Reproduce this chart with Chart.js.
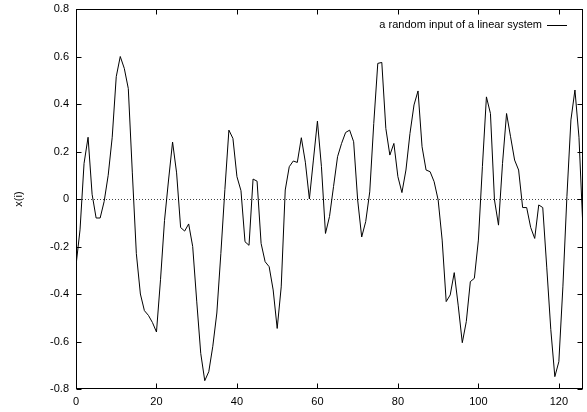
<!DOCTYPE html>
<html lang="en">
<head>
  <meta charset="UTF-8">
  <title>a random input of a linear system</title>
  <script src="https://cdn.jsdelivr.net/npm/chart.js"></script>
  <style>
    body { margin: 0; background: #ffffff; }
    #wrap { width: 587px; height: 412px; position: relative; }
  </style>
</head>
<body>

<div id="wrap">
  <canvas id="myChart"></canvas>
</div>

<script>
// x(i) for i = 0 .. 126
const seriesLabel = 'a random input of a linear system';
const values = [
  -0.28, -0.13, 0.15, 0.26, 0.02, -0.08, -0.08, -0.01, 0.10, 0.26,
  0.515, 0.60, 0.55, 0.465, 0.11, -0.23, -0.40, -0.47, -0.49, -0.52,
  -0.56, -0.34, -0.09, 0.08, 0.24, 0.11, -0.12, -0.135, -0.105, -0.20,
  -0.43, -0.65, -0.765, -0.727, -0.62, -0.48, -0.23, 0.04, 0.29, 0.255,
  0.094, 0.035, -0.18, -0.195, 0.084, 0.075, -0.187, -0.264, -0.285, -0.383,
  -0.545, -0.37, 0.038, 0.136, 0.16, 0.154, 0.258, 0.155, 0.0, 0.164,
  0.328, 0.136, -0.145, -0.074, 0.052, 0.178, 0.234, 0.28, 0.29, 0.241,
  -0.004, -0.16, -0.095, 0.03, 0.318, 0.571, 0.575, 0.297, 0.185, 0.234,
  0.094, 0.027, 0.122, 0.276, 0.396, 0.455, 0.22, 0.122, 0.115, 0.073,
  -0.004, -0.173, -0.432, -0.404, -0.31, -0.45, -0.605, -0.516, -0.348, -0.334,
  -0.173, 0.136, 0.43, 0.36, -0.004, -0.11, 0.15, 0.36, 0.262, 0.164,
  0.122, -0.036, -0.036, -0.12, -0.166, -0.025, -0.036, -0.29, -0.55, -0.748,
  -0.685, -0.37, 0.01, 0.333, 0.459, 0.26, -0.13
];
const xTicks = [0, 20, 40, 60, 80, 100, 120];
const yTicks = [-0.8, -0.6, -0.4, -0.2, 0, 0.2, 0.4, 0.6, 0.8];
const yTickLabels = ['-0.8', '-0.6', '-0.4', '-0.2', '0', '0.2', '0.4', '0.6', '0.8'];
const yTitle = 'x(i)';

const font = { family: '"Liberation Sans", Arial, sans-serif', size: 11 };

// gnuplot look: box border, inward ticks on all four sides
const framePlugin = {
  id: 'frame',
  beforeDatasetsDraw(chart) {
    const { ctx, chartArea: a, scales } = chart;
    const y0 = Math.round(scales.y.getPixelForValue(0)) + 0.5;
    ctx.save();
    ctx.strokeStyle = '#444';
    ctx.lineWidth = 1;
    ctx.setLineDash([1, 2]);
    ctx.beginPath();
    ctx.moveTo(a.left, y0);
    ctx.lineTo(a.right, y0);
    ctx.stroke();
    ctx.restore();
  },
  afterDatasetsDraw(chart) {
    const { ctx, chartArea: a, scales } = chart;
    const L = Math.round(a.left) + 0.5, R = Math.round(a.right) - 0.5;
    const T = Math.round(a.top) + 0.5, B = Math.round(a.bottom) - 0.5;
    const tl = 5;
    ctx.save();
    ctx.strokeStyle = '#000';
    ctx.lineWidth = 1;
    ctx.strokeRect(L, T, R - L, B - T);
    ctx.beginPath();
    xTicks.forEach(v => {
      const px = Math.round(scales.x.getPixelForValue(v)) + 0.5;
      ctx.moveTo(px, B); ctx.lineTo(px, B - tl);
      ctx.moveTo(px, T); ctx.lineTo(px, T + tl);
    });
    yTicks.forEach(v => {
      const py = Math.round(scales.y.getPixelForValue(v)) + 0.5;
      ctx.moveTo(L, py); ctx.lineTo(L + tl, py);
      ctx.moveTo(R, py); ctx.lineTo(R - tl, py);
    });
    ctx.stroke();

    // key, top right: text then line sample
    const ds = chart.data.datasets[0];
    ctx.font = '11px "Liberation Sans", Arial, sans-serif';
    ctx.fillStyle = '#000';
    ctx.textAlign = 'right';
    ctx.textBaseline = 'middle';
    ctx.fillText(ds.label, 542, 25);
    ctx.beginPath();
    ctx.moveTo(547, 25.5);
    ctx.lineTo(567, 25.5);
    ctx.strokeStyle = ds.borderColor;
    ctx.stroke();
    ctx.restore();
  }
};

Chart.defaults.color = '#000';
Chart.defaults.font = font;

const ctx = document.getElementById('myChart').getContext('2d');
new Chart(ctx, {
  type: 'line',
  data: {
    datasets: [{
      label: seriesLabel,
      data: values.map((v, i) => ({ x: i, y: v })),
      borderColor: '#000',
      borderWidth: 1,
      pointRadius: 0,
      tension: 0,
      fill: false
    }]
  },
  options: {
    responsive: true,
    maintainAspectRatio: false,
    animation: false,
    events: [],
    layout: { padding: { top: 9, right: 4, left: 0, bottom: 0 } },
    plugins: {
      legend: { display: false },
      tooltip: { enabled: false }
    },
    scales: {
      x: {
        type: 'linear',
        min: 0,
        max: 126,
        grid: { display: false, drawTicks: false, tickLength: 0 },
        border: { display: false },
        ticks: { padding: 6, maxRotation: 0, font: font },
        afterBuildTicks: s => { s.ticks = xTicks.map(v => ({ value: v })); },
        afterFit: s => { s.height = 23; s.paddingLeft = 0; s.paddingRight = 0; }
      },
      y: {
        type: 'linear',
        min: -0.8,
        max: 0.8,
        grid: { display: false, drawTicks: false, tickLength: 0 },
        border: { display: false },
        ticks: {
          padding: 7,
          font: font,
          callback: (v, i) => yTickLabels[i]
        },
        afterBuildTicks: s => { s.ticks = yTicks.map(v => ({ value: v })); },
        afterFit: s => { s.width = 76; s.paddingTop = 0; s.paddingBottom = 0; },
        title: { display: true, text: yTitle, font: font, padding: { top: 12, bottom: 0 } }
      }
    }
  },
  plugins: [framePlugin]
});
</script>

</body>
</html>
